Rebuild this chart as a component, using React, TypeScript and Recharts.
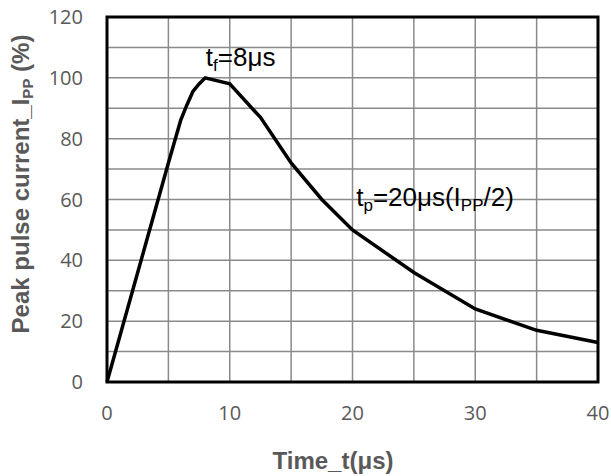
import { LineChart, Line, XAxis, YAxis, CartesianGrid, ReferenceArea, ReferenceDot } from "recharts";

// time in µs, current in % of Ipp
const timeUs = [0, 5, 6, 6.5, 7, 7.5, 8, 10, 12.5, 15, 17.5, 20, 25, 30, 35, 40];
const currentPct = [0, 72, 86, 91, 95.5, 98, 100, 98, 87, 72, 60, 50, 36, 24, 17, 13];

const xTicks = [0, 5, 10, 15, 20, 25, 30, 35, 40];
const yTicks = [0, 10, 20, 30, 40, 50, 60, 70, 80, 90, 100, 110, 120];

const data = timeUs.map((t, i) => ({ t, v: currentPct[i] }));

const tickStyle = { fill: "#595959", fontSize: 20, fontFamily: "'Open Sans', sans-serif" };
const titleFont = "'Liberation Sans', Arial, sans-serif";

function TfLabel(props: any) {
  const { x, y } = props.viewBox;
  return (
    <text x={x} y={y} fontSize={26} fontFamily={titleFont} fill="#000">
      t<tspan fontSize={17} dy={5}>f</tspan>
      <tspan dy={-5}>=8μs</tspan>
    </text>
  );
}

function TpLabel(props: any) {
  const { x, y } = props.viewBox;
  return (
    <text x={x} y={y} fontSize={26} fontFamily={titleFont} fill="#000">
      t<tspan fontSize={17} dy={5}>p</tspan>
      <tspan dy={-5}>=20μs(I</tspan>
      <tspan fontSize={17} dy={5}>PP</tspan>
      <tspan dy={-5}>/2)</tspan>
    </text>
  );
}

function XTitle() {
  return (
    <text x={333} y={469} textAnchor="middle" fontSize={24} fontWeight="bold" fontFamily={titleFont} fill="#595959">
      Time_t(μs)
    </text>
  );
}

function YTitle() {
  return (
    <text
      x={29}
      y={184}
      transform="rotate(-90 29 184)"
      textAnchor="middle"
      fontSize={24}
      fontWeight="bold"
      fontFamily={titleFont}
      fill="#595959"
    >
      Peak pulse current_I<tspan fontSize={15} dy={4}>PP</tspan>
      <tspan dy={-4}> (%)</tspan>
    </text>
  );
}

export default function App() {
  return (
    <div style={{ position: "absolute", left: 0, top: 0, background: "#fff" }}>
      <LineChart width={611} height={476} data={data} margin={{ top: 17, right: 13, left: 0, bottom: 0 }}>
        <CartesianGrid stroke="#8a8a8a" strokeWidth={1.5} />
        <XAxis
          dataKey="t"
          type="number"
          domain={[0, 40]}
          ticks={xTicks}
          height={94}
          tickLine={false}
          axisLine={false}
          tickSize={0}
          tickMargin={24}
          tick={tickStyle}
          tickFormatter={(v: number) => (v % 10 === 0 ? String(v) : "")}
          label={{ content: () => <XTitle /> }}
        />
        <YAxis
          type="number"
          domain={[0, 120]}
          ticks={yTicks}
          width={107}
          tickLine={false}
          axisLine={false}
          tickSize={0}
          tickMargin={24}
          tick={tickStyle}
          tickFormatter={(v: number) => (v % 20 === 0 ? String(v) : "")}
          label={{ content: () => <YTitle /> }}
        />
        <ReferenceArea x1={0} x2={40} y1={0} y2={120} fill="none" stroke="#000" strokeWidth={3} ifOverflow="visible" />
        <Line
          dataKey="v"
          type="linear"
          stroke="#000"
          strokeWidth={3.5}
          dot={false}
          isAnimationActive={false}
        />
        <ReferenceDot x={8.05} y={104} r={0} fill="none" stroke="none" label={{ content: TfLabel }} />
        <ReferenceDot x={20.3} y={58} r={0} fill="none" stroke="none" label={{ content: TpLabel }} />
      </LineChart>
    </div>
  );
}
